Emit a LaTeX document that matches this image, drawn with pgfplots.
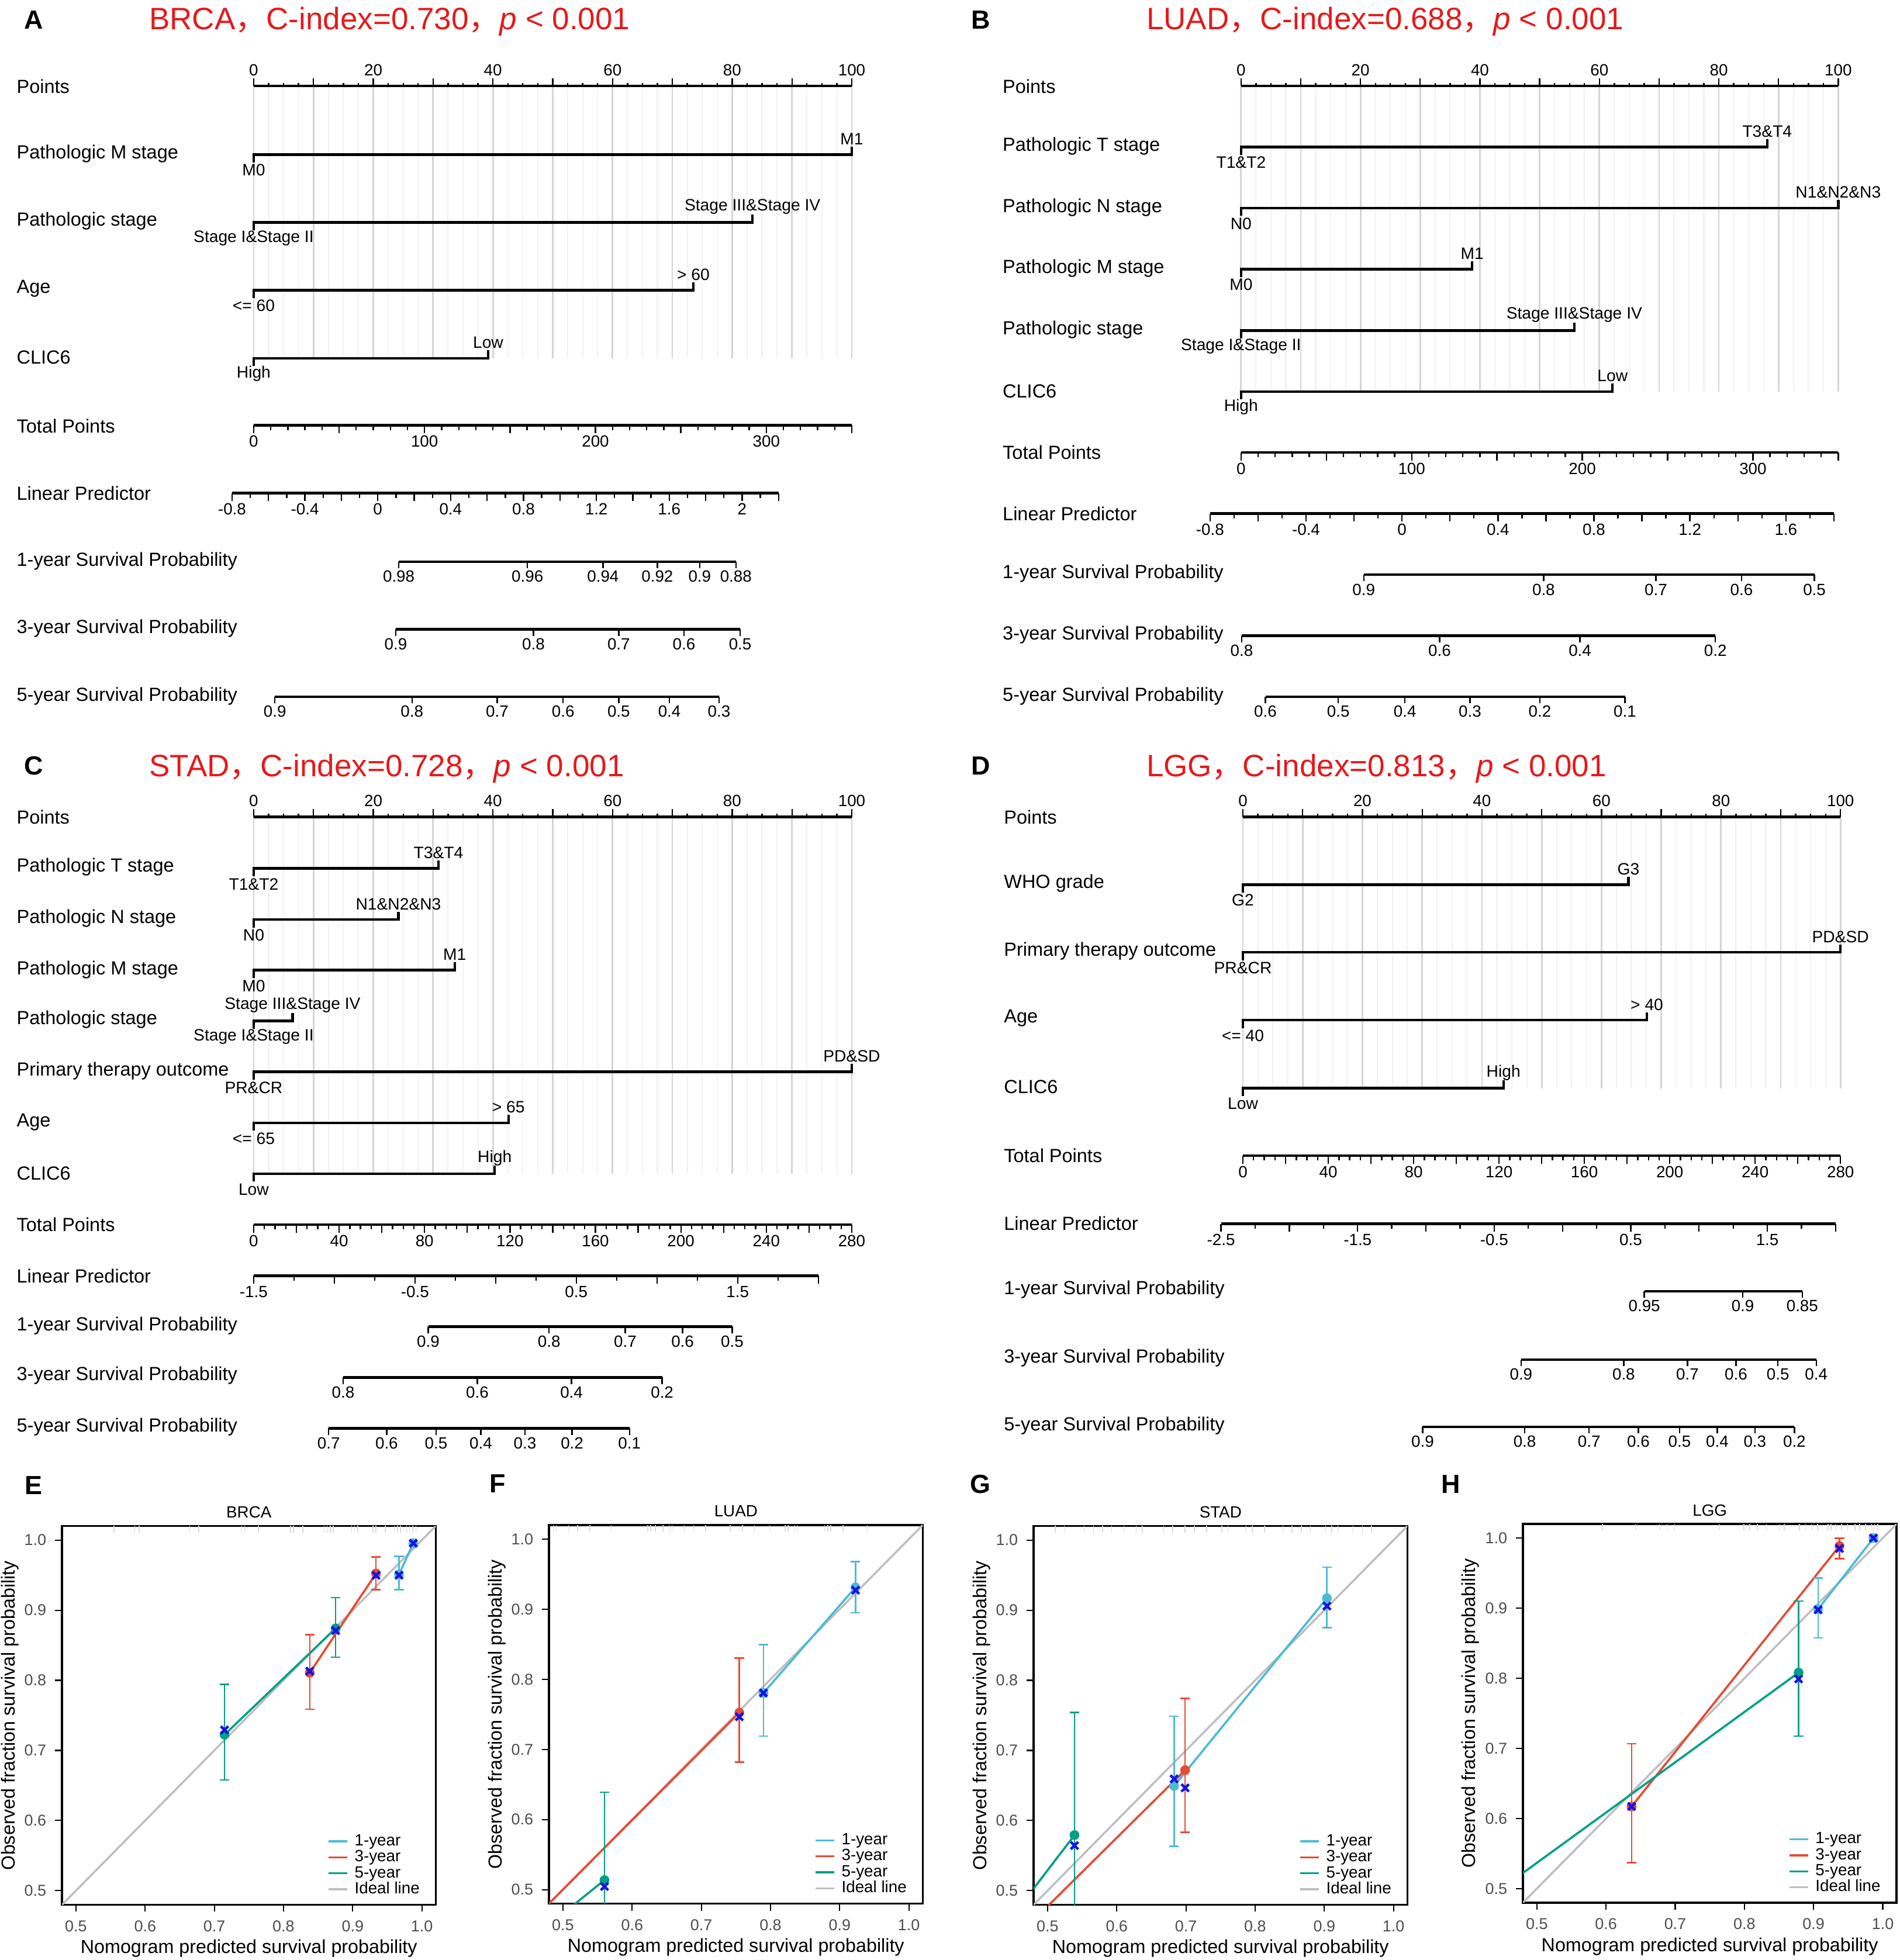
\documentclass[border=0pt]{standalone}
\usepackage{pgfplots}
\pgfplotsset{compat=1.18}
\usepackage{fontspec}
\setmainfont{Liberation Sans}
\newfontfamily\cjk{Noto Sans CJK SC}

\definecolor{tred}{RGB}{228,26,28}
\definecolor{c1}{HTML}{4DBBD5}
\definecolor{c3}{HTML}{E64B35}
\definecolor{c5}{HTML}{00A087}
\definecolor{ideal}{HTML}{BEBEBE}
\definecolor{xblue}{HTML}{1414E6}
\definecolor{tickgray}{HTML}{4D4D4D}

\newcommand{\fRow}{\fontsize{7.6}{9}\selectfont}
\newcommand{\fLvl}{\fontsize{6.6}{8}\selectfont}
\newcommand{\fNum}{\fontsize{6.5}{8}\selectfont}
\newcommand{\fTitle}{\fontsize{12.4}{14}\selectfont}
\newcommand{\fLet}{\fontsize{10.5}{12}\selectfont\bfseries}
\newcommand{\fCal}{\fontsize{6.3}{7.5}\selectfont}
\newcommand{\fCalLab}{\fontsize{7.55}{9}\selectfont}
\newcommand{\fLeg}{\fontsize{6.5}{7.5}\selectfont}

\pgfplotsset{
  legend image code/.code={\draw[#1] (0pt,0pt) -- (7.5pt,0pt);},
  nomoscale/.style={scale only axis, height=1pt, ymin=0, ymax=1, anchor=south west,
    axis x line*=bottom, axis y line=none, clip=false,
    axis line style={-, line width=1pt},
    tick align=outside, tick style={black, line width=0.55pt},
    major tick length=3.2pt, minor tick length=1.9pt,
    xticklabel style={font=\fNum, inner sep=0.8pt}},
  survrow/.style={major tick length=2.6pt},
  nomomain/.style={scale only axis, anchor=north west, xmin=0, xmax=100,
    axis x line*=top, axis y line=none, clip=false,
    axis line style={-, line width=1pt},
    xtick={0,10,20,30,40,50,60,70,80,90,100},
    xticklabels={0,,20,,40,,60,,80,,100}, minor x tick num=3,
    tick align=outside, tick style={black, line width=0.55pt},
    major tick length=3.15pt, minor tick length=1.3pt,
    xticklabel style={font=\fNum, inner sep=0.8pt},
    xmajorgrids, xminorgrids,
    major grid style={draw=gray!33, line width=0.65pt},
    minor grid style={draw=gray!10, line width=0.5pt}},
  varline/.style={black, line width=1pt},
  calib/.style={scale only axis, width=149.5pt, height=151.5pt, anchor=north west,
    xmin=0.48, xmax=1.02, ymin=0.48, ymax=1.02,
    xtick={0.5,0.6,0.7,0.8,0.9,1.0}, ytick={0.5,0.6,0.7,0.8,0.9,1.0},
    tick pos=left, tick align=outside, major tick length=2.8pt,
    tick style={black, line width=0.5pt},
    axis line style={line width=0.85pt},
    ticklabel style={font=\fCal, text=tickgray},
    xlabel={Nomogram predicted survival probability},
    ylabel={Observed fraction survival probability},
    xlabel style={font=\fCalLab, at={(axis description cs:0.5,-0.1155)}, anchor=center},
    ylabel style={font=\fCalLab, at={(axis description cs:-0.14,0.5)}, anchor=center},
    title style={font=\fLeg, at={(0.5,1)}, anchor=center, yshift=-0.5pt},
    legend cell align=left,
    legend style={at={(axis description cs:0.975,0.018)}, anchor=south east,
      draw=none, fill=none, font=\fLeg, row sep=0pt, inner sep=0pt,
      nodes={inner ysep=0.15pt, inner xsep=2.5pt, text height=4.75pt, text depth=1.35pt}},
    /pgf/number format/fixed, /pgf/number format/fixed zerofill,
    /pgf/number format/precision=1, /pgf/number format/assume math mode=true},
  dot/.style={only marks, mark=*, mark size=1.75pt, forget plot},
  ebar/.style={dot, error bars/y dir=both, error bars/y explicit, error bars/error mark=-,
    error bars/error bar style={line width=0.6pt},
    error bars/error mark options={rotate=90, line width=0.6pt, mark size=1.9pt}},
  cross/.style={xblue, only marks, mark=x, mark size=2.1pt, line width=1.05pt, forget plot},
  cline/.style={line width=0.85pt, forget plot},
  rug/.style={gray!30, only marks, mark=|, mark size=1.3pt, line width=0.35pt, forget plot},
}

% one nomogram scale: left px, line y px, width pt, xmin, options
\newcommand{\nscale}[5]{%
  \begin{axis}[nomoscale, at={(#1*0.5pt,-#2*0.5pt)}, width=#3pt, xmin=#4, #5]
    \addplot[draw=none] coordinates {(#4,0.5)};
  \end{axis}}

\tikzset{lvl/.style={font=\fLvl, inner sep=0pt, anchor=center},
  rowlab/.style={font=\fRow, inner sep=0pt, anchor=west},
  ttl/.style={font=\fTitle, text=tred, inner sep=0pt, anchor=west},
  letter/.style={font=\fLet, inner sep=0pt, anchor=center}}

\begin{document}
\begin{tikzpicture}
\useasboundingbox (0pt,0pt) rectangle (760pt,-784.3pt);

% ---------------- A: BRCA nomogram ----------------
\begin{axis}[nomomain, at={(203*0.5pt,-68.9*0.5pt)}, width=239.3pt, height=109.05pt, ymin=-287, ymax=-68.9]
  \addplot[varline] coordinates {(0,-130.0)(0,-123.7)(100,-123.7)(100,-117.4)};
  \addplot[varline] coordinates {(0,-184.3)(0,-178)(83.4,-178)(83.4,-171.7)};
  \addplot[varline] coordinates {(0,-238.6)(0,-232.3)(73.5,-232.3)(73.5,-226)};
  \addplot[varline] coordinates {(0,-292.9)(0,-286.6)(39.2,-286.6)(39.2,-280.3)};
  \node[lvl] at (axis cs:0,-136.2) {M0};
  \node[lvl] at (axis cs:100,-111.2) {M1};
  \node[lvl] at (axis cs:0,-190.5) {Stage I\&Stage II};
  \node[lvl] at (axis cs:83.4,-165.5) {Stage III\&Stage IV};
  \node[lvl] at (axis cs:0,-244.8) {<= 60};
  \node[lvl] at (axis cs:73.5,-219.8) {> 60};
  \node[lvl] at (axis cs:0,-299.1) {High};
  \node[lvl] at (axis cs:39.2,-274.1) {Low};
\end{axis}
\nscale{203.0}{340.3}{239.3}{0}{xmax=350, xtick={0,50,100,150,200,250,300,350},
  xticklabels={0,,100,,200,,300,}, minor x tick num=4}
\nscale{185.7}{394.6}{218.65}{-0.8}{xmax=2.2,
  xtick={-0.8,-0.6,-0.4,-0.2,0,0.2,0.4,0.6,0.8,1,1.2,1.4,1.6,1.8,2,2.2},
  xticklabels={-0.8,,-0.4,,0,,0.4,,0.8,,1.2,,1.6,,2,}, minor x tick num=1}
\nscale{319.1}{449.6}{134.9}{319.1}{survrow, xmax=588.9,
  xtick={319.1,422.1,482.5,526.0,559.9,588.9}, xticklabels={0.98,0.96,0.94,0.92,0.9,0.88}}
\nscale{316.7}{503.6}{137.8}{316.7}{survrow, xmax=592.3,
  xtick={316.7,426.9,495.1,547.3,592.3}, xticklabels={0.9,0.8,0.7,0.6,0.5}}
\nscale{220.0}{557.7}{177.7}{220.0}{survrow, xmax=575.4,
  xtick={220.0,329.7,397.9,450.6,495.1,535.7,575.4}, xticklabels={0.9,0.8,0.7,0.6,0.5,0.4,0.3}}

% ---------------- B: LUAD nomogram ----------------
\begin{axis}[nomomain, at={(993.1*0.5pt,-68.9*0.5pt)}, width=238.95pt, height=122.3pt, ymin=-313.5, ymax=-68.9]
  \addplot[varline] coordinates {(0,-123.9)(0,-117.6)(88.1,-117.6)(88.1,-111.3)};
  \addplot[varline] coordinates {(0,-172.8)(0,-166.5)(100,-166.5)(100,-160.2)};
  \addplot[varline] coordinates {(0,-221.7)(0,-215.4)(38.7,-215.4)(38.7,-209.1)};
  \addplot[varline] coordinates {(0,-270.8)(0,-264.5)(55.8,-264.5)(55.8,-258.2)};
  \addplot[varline] coordinates {(0,-319.6)(0,-313.3)(62.2,-313.3)(62.2,-307)};
  \node[lvl] at (axis cs:0,-130.1) {T1\&T2};
  \node[lvl] at (axis cs:88.1,-105.1) {T3\&T4};
  \node[lvl] at (axis cs:0,-179) {N0};
  \node[lvl] at (axis cs:100,-154) {N1\&N2\&N3};
  \node[lvl] at (axis cs:0,-227.9) {M0};
  \node[lvl] at (axis cs:38.7,-202.9) {M1};
  \node[lvl] at (axis cs:0,-277) {Stage I\&Stage II};
  \node[lvl] at (axis cs:55.8,-252) {Stage III\&Stage IV};
  \node[lvl] at (axis cs:0,-325.8) {High};
  \node[lvl] at (axis cs:62.2,-300.8) {Low};
\end{axis}
\nscale{993.1}{362.2}{238.95}{0}{xmax=350, xtick={0,50,100,150,200,250,300,350},
  xticklabels={0,,100,,200,,300,}, minor x tick num=4}
\nscale{968.3}{411.0}{249.6}{-0.8}{xmax=1.8,
  xtick={-0.8,-0.6,-0.4,-0.2,0,0.2,0.4,0.6,0.8,1,1.2,1.4,1.6,1.8},
  xticklabels={-0.8,,-0.4,,0,,0.4,,0.8,,1.2,,1.6,}, minor x tick num=1}
\nscale{1091.3}{460.0}{180.3}{1091.3}{survrow, xmax=1451.9,
  xtick={1091.3,1235.2,1325.1,1393.6,1451.9}, xticklabels={0.9,0.8,0.7,0.6,0.5}}
\nscale{993.6}{508.8}{189.55}{993.6}{survrow, xmax=1372.7,
  xtick={993.6,1152.0,1264.3,1372.7}, xticklabels={0.8,0.6,0.4,0.2}}
\nscale{1012.6}{557.7}{143.85}{1012.6}{survrow, xmax=1300.3,
  xtick={1012.6,1070.9,1124.3,1176.3,1232.2,1300.3}, xticklabels={0.6,0.5,0.4,0.3,0.2,0.1}}

% ---------------- C: STAD nomogram ----------------
\begin{axis}[nomomain, at={(203*0.5pt,-653.8*0.5pt)}, width=239.3pt, height=142.85pt, ymin=-939.5, ymax=-653.8]
  \addplot[varline] coordinates {(0,-701.3)(0,-695)(30.9,-695)(30.9,-688.7)};
  \addplot[varline] coordinates {(0,-742.2)(0,-735.9)(24.2,-735.9)(24.2,-729.6)};
  \addplot[varline] coordinates {(0,-782.7)(0,-776.4)(33.6,-776.4)(33.6,-770.1)};
  \addplot[varline] coordinates {(0,-823.4)(0,-817.1)(6.5,-817.1)(6.5,-810.8)};
  \addplot[varline] coordinates {(0,-864.1)(0,-857.8)(100,-857.8)(100,-851.5)};
  \addplot[varline] coordinates {(0,-904.9)(0,-898.6)(42.6,-898.6)(42.6,-892.3)};
  \addplot[varline] coordinates {(0,-945.6)(0,-939.3)(40.3,-939.3)(40.3,-933)};
  \node[lvl] at (axis cs:0,-707.5) {T1\&T2};
  \node[lvl] at (axis cs:30.9,-682.5) {T3\&T4};
  \node[lvl] at (axis cs:0,-748.4) {N0};
  \node[lvl] at (axis cs:24.2,-723.4) {N1\&N2\&N3};
  \node[lvl] at (axis cs:0,-788.9) {M0};
  \node[lvl] at (axis cs:33.6,-763.9) {M1};
  \node[lvl] at (axis cs:0,-829.6) {Stage I\&Stage II};
  \node[lvl] at (axis cs:6.5,-804.6) {Stage III\&Stage IV};
  \node[lvl] at (axis cs:0,-870.3) {PR\&CR};
  \node[lvl] at (axis cs:100,-845.3) {PD\&SD};
  \node[lvl] at (axis cs:0,-911.1) {<= 65};
  \node[lvl] at (axis cs:42.6,-886.1) {> 65};
  \node[lvl] at (axis cs:0,-951.8) {Low};
  \node[lvl] at (axis cs:40.3,-926.8) {High};
\end{axis}
\nscale{203.0}{980.1}{239.3}{0}{xmax=280,
  xtick={0,20,40,60,80,100,120,140,160,180,200,220,240,260,280},
  xticklabels={0,,40,,80,,120,,160,,200,,240,,280}, minor x tick num=3}
\nscale{203.0}{1021.0}{225.9}{-1.5}{xmax=2,
  xtick={-1.5,-1,-0.5,0,0.5,1,1.5,2}, xticklabels={-1.5,,-0.5,,0.5,,1.5,}, minor x tick num=1}
\nscale{342.7}{1061.7}{121.6}{342.7}{survrow, xmax=585.9,
  xtick={342.7,439.4,500.3,546.2,585.9}, xticklabels={0.9,0.8,0.7,0.6,0.5}}
\nscale{274.6}{1102.4}{127.6}{274.6}{survrow, xmax=529.8,
  xtick={274.6,381.9,457.3,529.8}, xticklabels={0.8,0.6,0.4,0.2}}
\nscale{263.0}{1143.1}{120.35}{263.0}{survrow, xmax=503.7,
  xtick={263.0,309.4,349.0,384.8,420.1,457.8,503.7}, xticklabels={0.7,0.6,0.5,0.4,0.3,0.2,0.1}}

% ---------------- D: LGG nomogram ----------------
\begin{axis}[nomomain, at={(994.6*0.5pt,-653.8*0.5pt)}, width=239.1pt, height=108.6pt, ymin=-871, ymax=-653.8]
  \addplot[varline] coordinates {(0,-714.3)(0,-708)(64.5,-708)(64.5,-701.7)};
  \addplot[varline] coordinates {(0,-768.5)(0,-762.2)(100,-762.2)(100,-755.9)};
  \addplot[varline] coordinates {(0,-822.7)(0,-816.4)(67.6,-816.4)(67.6,-810.1)};
  \addplot[varline] coordinates {(0,-877.1)(0,-870.8)(43.6,-870.8)(43.6,-864.5)};
  \node[lvl] at (axis cs:0,-720.5) {G2};
  \node[lvl] at (axis cs:64.5,-695.5) {G3};
  \node[lvl] at (axis cs:0,-774.7) {PR\&CR};
  \node[lvl] at (axis cs:100,-749.7) {PD\&SD};
  \node[lvl] at (axis cs:0,-828.9) {<= 40};
  \node[lvl] at (axis cs:67.6,-803.9) {> 40};
  \node[lvl] at (axis cs:0,-883.3) {Low};
  \node[lvl] at (axis cs:43.6,-858.3) {High};
\end{axis}
\nscale{994.6}{924.8}{239.1}{0}{xmax=280,
  xtick={0,20,40,60,80,100,120,140,160,180,200,220,240,260,280},
  xticklabels={0,,40,,80,,120,,160,,200,,240,,280}, minor x tick num=3}
\nscale{977.1}{979.4}{245.9}{-2.5}{xmax=2,
  xtick={-2.5,-2,-1.5,-1,-0.5,0,0.5,1,1.5,2}, xticklabels={-2.5,,-1.5,,-0.5,,0.5,,1.5,}, minor x tick num=1}
\nscale{1315.8}{1033.4}{63.2}{1315.8}{survrow, xmax=1442.2,
  xtick={1315.8,1394.6,1442.2}, xticklabels={0.95,0.9,0.85}}
\nscale{1217.2}{1088.0}{118.1}{1217.2}{survrow, xmax=1453.4,
  xtick={1217.2,1299.3,1350.3,1389.2,1422.7,1453.4}, xticklabels={0.9,0.8,0.7,0.6,0.5,0.4}}
\nscale{1138.4}{1141.8}{148.75}{1138.4}{survrow, xmax=1435.9,
  xtick={1138.4,1220.1,1271.6,1311.0,1344.0,1374.2,1404.3,1435.9}, xticklabels={0.9,0.8,0.7,0.6,0.5,0.4,0.3,0.2}}

% ---------------- E: BRCA calibration ----------------
\begin{axis}[calib, at={(49.7*0.5pt,-1221.3*0.5pt)}, title={BRCA}]
  \addplot[rug] coordinates {(0.5548,1.0155)(0.5848,1.0155)(0.5914,1.0155)(0.6643,1.0155)(0.6776,1.0155)
    (0.7394,1.0155)(0.7438,1.0155)(0.7637,1.0155)(0.8101,1.0155)(0.8145,1.0155)(0.8277,1.0155)
    (0.8587,1.0155)(0.8631,1.0155)(0.8675,1.0155)(0.8719,1.0155)(0.8984,1.0155)(0.9028,1.0155)
    (0.9072,1.0155)(0.9293,1.0155)(0.9337,1.0155)(0.9470,1.0155)(0.9602,1.0155)(0.9647,1.0155)
    (0.9691,1.0155)(0.9779,1.0155)(0.9823,1.0155)(0.9867,1.0155)(0.9912,1.0155)};
  \addplot[ideal, line width=0.8pt, forget plot] coordinates {(0.48,0.48)(1.02,1.02)};
  \addplot[c1, cline] coordinates {(0.9669,0.9511)(0.9876,0.9955)};
  \addplot[c3, cline] coordinates {(0.8379,0.8107)(0.9337,0.9524)};
  \addplot[c5, cline] coordinates {(0.7147,0.7224)(0.8754,0.8741)};
  \addplot[c1, ebar] coordinates {(0.9669,0.9511) += (0,0.0258) -= (0,0.0218)};
  \addplot[c1, dot] coordinates {(0.9876,0.9955)};
  \addplot[c3, ebar] coordinates {(0.8379,0.8107) += (0,0.0543) -= (0,0.0521) (0.9337,0.9524) += (0,0.0236) -= (0,0.0231)};
  \addplot[c5, ebar] coordinates {(0.7147,0.7224) += (0,0.0720) -= (0,0.0644) (0.8754,0.8741) += (0,0.0439) -= (0,0.0412)};
  \addplot[cross] coordinates {(0.9669,0.950)(0.9876,0.9955)(0.8379,0.813)(0.9337,0.9497)(0.7147,0.7292)(0.8754,0.8709)};
  \addlegendimage{c1, line width=0.8pt}\addlegendentry{1-year}
  \addlegendimage{c3, line width=0.8pt}\addlegendentry{3-year}
  \addlegendimage{c5, line width=0.8pt}\addlegendentry{5-year}
  \addlegendimage{ideal, line width=0.8pt}\addlegendentry{Ideal line}
\end{axis}

% ---------------- F: LUAD calibration ----------------
\begin{axis}[calib, at={(439.4*0.5pt,-1220.5*0.5pt)}, title={LUAD}]
  \addplot[rug] coordinates {(0.4859,1.0155)(0.4903,1.0155)(0.5079,1.0155)(0.5212,1.0155)(0.5388,1.0155)
    (0.5697,1.0155)(0.6226,1.0155)(0.6270,1.0155)(0.6336,1.0155)(0.6446,1.0155)(0.6534,1.0155)
    (0.6578,1.0155)(0.6755,1.0155)(0.6887,1.0155)(0.7063,1.0155)(0.7416,1.0155)(0.7593,1.0155)
    (0.7769,1.0155)(0.7989,1.0155)(0.8210,1.0155)(0.8254,1.0155)(0.8342,1.0155)(0.8386,1.0155)
    (0.8783,1.0155)(0.8827,1.0155)(0.8871,1.0155)(0.9048,1.0155)(0.9400,1.0155)};
  \addplot[ideal, line width=0.8pt, forget plot] coordinates {(0.48,0.48)(1.02,1.02)};
  \addplot[c1, cline] coordinates {(0.7897,0.7805)(0.9228,0.9312)};
  \addplot[c3, cline] coordinates {(0.40,0.4012)(0.7549,0.7525)};
  \addplot[c5, cline] coordinates {(0.40,0.3864)(0.5600,0.5136)};
  \addplot[c1, ebar] coordinates {(0.7897,0.7805) += (0,0.0688) -= (0,0.0615) (0.9228,0.9312) += (0,0.0367) -= (0,0.0362)};
  \addplot[c3, ebar] coordinates {(0.7549,0.7525) += (0,0.0778) -= (0,0.0706)};
  \addplot[c5, ebar] coordinates {(0.5600,0.5136) += (0,0.1253) -= (0,0.13)};
  \addplot[cross] coordinates {(0.7897,0.7805)(0.9228,0.9271)(0.7549,0.7466)(0.56,0.5045)};
  \addlegendimage{c1, line width=0.8pt}\addlegendentry{1-year}
  \addlegendimage{c3, line width=0.8pt}\addlegendentry{3-year}
  \addlegendimage{c5, line width=0.8pt}\addlegendentry{5-year}
  \addlegendimage{ideal, line width=0.8pt}\addlegendentry{Ideal line}
\end{axis}

% ---------------- G: STAD calibration ----------------
\begin{axis}[calib, at={(827.2*0.5pt,-1221.3*0.5pt)}, title={STAD}]
  \addplot[rug] coordinates {(0.511,1.0155)(0.5243,1.0155)(0.553,1.0155)(0.5663,1.0155)(0.5795,1.0155)
    (0.5928,1.0155)(0.6104,1.0155)(0.6281,1.0155)(0.6369,1.0155)(0.6678,1.0155)(0.6811,1.0155)
    (0.6988,1.0155)(0.712,1.0155)(0.7297,1.0155)(0.7518,1.0155)(0.7606,1.0155)(0.7871,1.0155)
    (0.7959,1.0155)(0.8136,1.0155)(0.8401,1.0155)(0.8534,1.0155)(0.8666,1.0155)(0.8799,1.0155)
    (0.9019,1.0155)(0.9108,1.0155)(0.9196,1.0155)(0.9417,1.0155)(0.955,1.0155)(0.9682,1.0155)};
  \addplot[ideal, line width=0.8pt, forget plot] coordinates {(0.48,0.48)(1.02,1.02)};
  \addplot[c1, cline] coordinates {(0.6829,0.6493)(0.9037,0.9172)};
  \addplot[c3, cline] coordinates {(0.40,0.380)(0.6988,0.6719)};
  \addplot[c5, cline] coordinates {(0.40,0.40)(0.5389,0.5792)};
  \addplot[c1, ebar] coordinates {(0.6829,0.6493) += (0,0.0996) -= (0,0.086) (0.9037,0.9172) += (0,0.0443) -= (0,0.0421)};
  \addplot[c3, ebar] coordinates {(0.6988,0.6719) += (0,0.1023) -= (0,0.0886)};
  \addplot[c5, ebar] coordinates {(0.5389,0.5792) += (0,0.1751) -= (0,0.18)};
  \addplot[cross] coordinates {(0.6829,0.6593)(0.9037,0.9059)(0.6988,0.6466)(0.5389,0.5643)};
  \addlegendimage{c1, line width=0.8pt}\addlegendentry{1-year}
  \addlegendimage{c3, line width=0.8pt}\addlegendentry{3-year}
  \addlegendimage{c5, line width=0.8pt}\addlegendentry{5-year}
  \addlegendimage{ideal, line width=0.8pt}\addlegendentry{Ideal line}
\end{axis}

% ---------------- H: LGG calibration ----------------
\begin{axis}[calib, at={(1218.7*0.5pt,-1219.7*0.5pt)}, title={LGG}]
  \addplot[rug] coordinates {(0.5948,1.0155)(0.6426,1.0155)(0.6774,1.0155)(0.6883,1.0155)(0.6991,1.0155)
    (0.7643,1.0155)(0.7991,1.0155)(0.8078,1.0155)(0.8187,1.0155)(0.8317,1.0155)(0.8513,1.0155)
    (0.8578,1.0155)(0.8796,1.0155)(0.8883,1.0155)(0.897,1.0155)(0.9057,1.0155)(0.9209,1.0155)
    (0.9252,1.0155)(0.9317,1.0155)(0.9404,1.0155)(0.9491,1.0155)(0.96,1.0155)(0.9665,1.0155)
    (0.9752,1.0155)(0.9839,1.0155)(0.9883,1.0155)(0.9926,1.0155)};
  \addplot[ideal, line width=0.8pt, forget plot] coordinates {(0.48,0.48)(1.02,1.02)};
  \addplot[c1, cline] coordinates {(0.9065,0.8986)(0.9865,1.0)};
  \addplot[c3, cline] coordinates {(0.6370,0.6172)(0.9374,0.9887)};
  \addplot[c5, cline] coordinates {(0.40,0.465)(0.8783,0.8081)};
  \addplot[c1, ebar] coordinates {(0.9065,0.8986) += (0,0.0444) -= (0,0.0411)};
  \addplot[c1, dot] coordinates {(0.9865,1.0)};
  \addplot[c3, ebar] coordinates {(0.637,0.6172) += (0,0.0896) -= (0,0.0801) (0.9374,0.9887) += (0,0.0113) -= (0,0.0181)};
  \addplot[c5, ebar] coordinates {(0.8783,0.8081) += (0,0.1019) -= (0,0.0905)};
  \addplot[cross] coordinates {(0.9065,0.8977)(0.9865,1.0)(0.637,0.6172)(0.9374,0.9851)(0.8783,0.7991)};
  \addlegendimage{c1, line width=0.8pt}\addlegendentry{1-year}
  \addlegendimage{c3, line width=0.8pt}\addlegendentry{3-year}
  \addlegendimage{c5, line width=0.8pt}\addlegendentry{5-year}
  \addlegendimage{ideal, line width=0.8pt}\addlegendentry{Ideal line}
\end{axis}

% ---------------- text: letters, titles, row labels ----------------
\begin{scope}[x=0.5pt, y=-0.5pt]
  \node[letter] at (27,16) {A};
  \node[letter] at (785,16) {B};
  \node[letter] at (27,613) {C};
  \node[letter] at (785,613) {D};
  \node[letter] at (27,1188.7) {E};
  \node[letter] at (398.3,1187.5) {F};
  \node[letter] at (784.4,1188) {G};
  \node[letter] at (1160.8,1188) {H};
  \node[ttl] at (119,17) {BRCA{\cjk ，}C-index=0.730{\cjk ，}\textit{p} < 0.001};
  \node[ttl] at (917,17) {LUAD{\cjk ，}C-index=0.688{\cjk ，}\textit{p} < 0.001};
  \node[ttl] at (119,615) {STAD{\cjk ，}C-index=0.728{\cjk ，}\textit{p} < 0.001};
  \node[ttl] at (917,615) {LGG{\cjk ，}C-index=0.813{\cjk ，}\textit{p} < 0.001};
  % A
  \node[rowlab] at (13,69) {Points};
  \node[rowlab] at (13,123) {Pathologic M stage};
  \node[rowlab] at (13,177) {Pathologic stage};
  \node[rowlab] at (13,231) {Age};
  \node[rowlab] at (13,286) {CLIC6};
  \node[rowlab] at (13,341) {Total Points};
  \node[rowlab] at (13,395) {Linear Predictor};
  \node[rowlab] at (13,449) {1-year Survival Probability};
  \node[rowlab] at (13,503) {3-year Survival Probability};
  \node[rowlab] at (13,557) {5-year Survival Probability};
  % B
  \node[rowlab] at (802,69) {Points};
  \node[rowlab] at (802,117) {Pathologic T stage};
  \node[rowlab] at (802,166) {Pathologic N stage};
  \node[rowlab] at (802,215) {Pathologic M stage};
  \node[rowlab] at (802,264) {Pathologic stage};
  \node[rowlab] at (802,313) {CLIC6};
  \node[rowlab] at (802,362) {Total Points};
  \node[rowlab] at (802,411) {Linear Predictor};
  \node[rowlab] at (802,459) {1-year Survival Probability};
  \node[rowlab] at (802,508) {3-year Survival Probability};
  \node[rowlab] at (802,557) {5-year Survival Probability};
  % C
  \node[rowlab] at (13,654) {Points};
  \node[rowlab] at (13,694) {Pathologic T stage};
  \node[rowlab] at (13,735) {Pathologic N stage};
  \node[rowlab] at (13,776) {Pathologic M stage};
  \node[rowlab] at (13,816) {Pathologic stage};
  \node[rowlab] at (13,857) {Primary therapy outcome};
  \node[rowlab] at (13,898) {Age};
  \node[rowlab] at (13,939) {CLIC6};
  \node[rowlab] at (13,980) {Total Points};
  \node[rowlab] at (13,1021) {Linear Predictor};
  \node[rowlab] at (13,1061) {1-year Survival Probability};
  \node[rowlab] at (13,1101) {3-year Survival Probability};
  \node[rowlab] at (13,1142) {5-year Survival Probability};
  % D
  \node[rowlab] at (803,654) {Points};
  \node[rowlab] at (803,707) {WHO grade};
  \node[rowlab] at (803,761) {Primary therapy outcome};
  \node[rowlab] at (803,815) {Age};
  \node[rowlab] at (803,870) {CLIC6};
  \node[rowlab] at (803,925) {Total Points};
  \node[rowlab] at (803,979) {Linear Predictor};
  \node[rowlab] at (803,1032) {1-year Survival Probability};
  \node[rowlab] at (803,1087) {3-year Survival Probability};
  \node[rowlab] at (803,1141) {5-year Survival Probability};
\end{scope}
\end{tikzpicture}
\end{document}
